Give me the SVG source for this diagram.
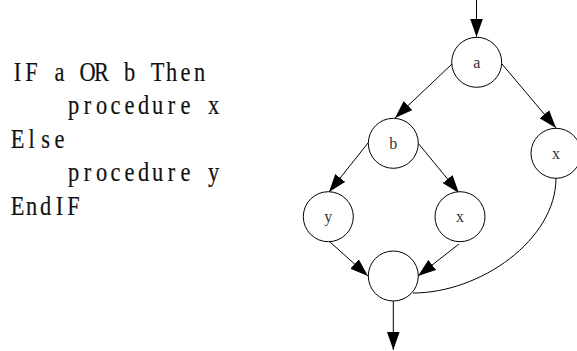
<svg xmlns="http://www.w3.org/2000/svg" width="577" height="351" viewBox="0 0 577 351">
<style>
.code{font-family:"Liberation Serif","Times New Roman",serif;font-size:28px;fill:#111;stroke:#111;stroke-width:0.2;text-anchor:middle}
.node circle{fill:#fff;stroke:#000;stroke-width:1}
.node text{font-family:"Liberation Serif","Times New Roman",serif;font-size:16px;fill:#333;text-anchor:middle}
.edge{fill:none;stroke:#000;stroke-width:1}
</style>
<defs>
<marker id="ah" markerUnits="userSpaceOnUse" markerWidth="18" markerHeight="13" refX="18" refY="6.3" orient="auto" viewBox="0 0 18 12.6">
<path d="M0,0 L18,6.3 L0,12.6 z" fill="#000"/>
</marker>
</defs>
<rect width="577" height="351" fill="#fff"/>
<g id="code" transform="scale(0.8 1)">
<text class="code" x="21.88 39.38 56.88 74.38 91.88 109.38 126.88 144.38 161.88 179.38 196.88 214.38 231.88 249.38" y="81">IF a OR b Then</text>
<text class="code" x="91.88 109.38 126.88 144.38 161.88 179.38 196.88 214.38 231.88 249.38 266.88" y="114.5">procedure x</text>
<text class="code" x="21.88 39.38 56.88 74.38" y="148">Else</text>
<text class="code" x="91.88 109.38 126.88 144.38 161.88 179.38 196.88 214.38 231.88 249.38 266.88" y="181.5">procedure y</text>
<text class="code" x="21.88 39.38 56.88 74.38 91.88" y="215">EndIF</text>
</g>
<g id="connectors">
<path class="edge" d="M476.5,0 L476.5,37" marker-end="url(#ah)"/>
<path class="edge" d="M452,64 L395,118" marker-end="url(#ah)"/>
<path class="edge" d="M502,64 L556,128" marker-end="url(#ah)"/>
<path class="edge" d="M368,143 L329,192" marker-end="url(#ah)"/>
<path class="edge" d="M418,143 L459,193" marker-end="url(#ah)"/>
<path class="edge" d="M330,242 L368,276" marker-end="url(#ah)"/>
<path class="edge" d="M459,244 L418,276" marker-end="url(#ah)"/>
<path class="edge" d="M556,178 C556,240 480,293 413,293"/>
<path class="edge" d="M393.3,301 L393.3,350" marker-end="url(#ah)"/>
</g>
<g id="node-a" class="node"><circle cx="476.7" cy="62.3" r="25"/><text x="476.7" y="67.7">a</text></g>
<g id="node-b" class="node"><circle cx="393.3" cy="143.3" r="25"/><text x="393.3" y="148.5">b</text></g>
<g id="node-x1" class="node"><circle cx="556" cy="153.3" r="25"/><text x="556" y="158.5">x</text></g>
<g id="node-y" class="node"><circle cx="328.3" cy="216.7" r="25"/><text x="328.3" y="221.5">y</text></g>
<g id="node-x2" class="node"><circle cx="460" cy="216.7" r="25"/><text x="460" y="221.5">x</text></g>
<g id="node-end" class="node"><circle cx="393.3" cy="276" r="25"/></g>
</svg>
